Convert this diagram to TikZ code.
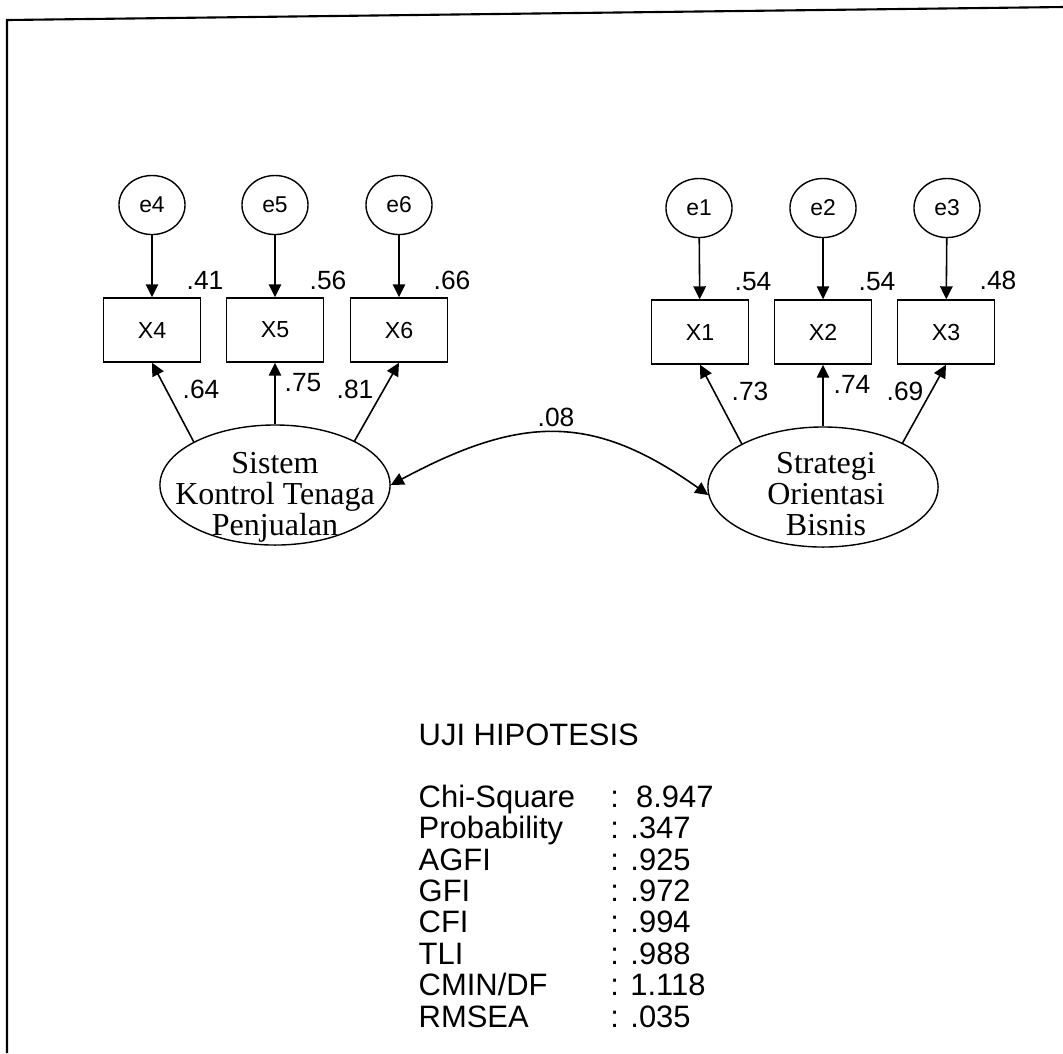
\documentclass[tikz,border=0pt]{standalone}
\usepackage{fontspec}
\setmainfont{Liberation Serif}
\setsansfont{Liberation Sans}
\usetikzlibrary{arrows.meta, positioning, shapes.geometric}

\begin{document}
\begin{tikzpicture}[
        x=0.01cm, y=-0.01cm,
        err/.style={draw, ellipse, line width=0.4pt, minimum width=0.66cm, minimum height=0.59cm, inner sep=0pt, font=\sffamily\fontsize{6.5}{7}\selectfont},
        ind/.style={draw, rectangle, line width=0.4pt, minimum width=0.97cm, minimum height=0.64cm, inner sep=0pt, font=\sffamily\fontsize{6.6}{7}\selectfont},
        lat/.style={draw, ellipse, line width=0.4pt, minimum width=2.3cm, minimum height=1.2cm, inner sep=0pt},
        lattxt/.style={align=center, inner sep=0pt, font=\rmfamily\fontsize{9.1}{8.8}\selectfont},
        arrow/.style={-{Triangle[length=1.3mm, width=1.25mm]}, line width=0.45pt},
        coef/.style={inner sep=0pt, font=\sffamily\fontsize{7.5}{8}\selectfont},
        stat/.style={inner sep=0pt, align=left, font=\sffamily\fontsize{8.8}{8.9}\selectfont}
    ]
    \useasboundingbox (0,0) rectangle (1063,1053);

    % --- Frame ---
    \draw[line width=0.6pt] (1063,7) -- (7,20) -- (7,1053);

    % --- Sistem Kontrol Tenaga Penjualan ---
    \node[err] (e4) at (152,205) {e4};
    \node[err] (e5) at (275,205) {e5};
    \node[err] (e6) at (399,205) {e6};
    \node[ind] (x4) at (152,330) {X4};
    \node[ind] (x5) at (275,330) {X5};
    \node[ind] (x6) at (399,330) {X6};
    \node[lat] (lk) at (275,485) {};
    \node[lattxt] (lktxt) at (275,497) {Sistem\\Kontrol Tenaga\\Penjualan};

    \draw[arrow] (e4) -- (x4);
    \draw[arrow] (e5) -- (x5);
    \draw[arrow] (e6) -- (x6);
    \draw[arrow] (lk.152) -- (x4.south);
    \draw[arrow] (lk.north) -- (x5.south);
    \draw[arrow] (lk.29) -- (x6.south);

    \node[coef] (r4) at (205,280) {.41};
    \node[coef] (r5) at (328,280) {.56};
    \node[coef] (r6) at (452,280) {.66};
    \node[coef] (l4) at (201,389) {.64};
    \node[coef] (l5) at (303,383) {.75};
    \node[coef] (l6) at (355,389) {.81};

    % --- Strategi Orientasi Bisnis ---
    \node[err] (e1) at (699,208) {e1};
    \node[err] (e2) at (823,208) {e2};
    \node[err] (e3) at (947,208) {e3};
    \node[ind] (x1) at (700,332) {X1};
    \node[ind] (x2) at (823,332) {X2};
    \node[ind] (x3) at (946,332) {X3};
    \node[lat] (so) at (823,487) {};
    \node[lattxt] (sotxt) at (826,494) {Strategi\\Orientasi\\Bisnis};

    \draw[arrow] (e1) -- (x1);
    \draw[arrow] (e2) -- (x2);
    \draw[arrow] (e3) -- (x3);
    \draw[arrow] (so.152) -- (x1.south);
    \draw[arrow] (so.north) -- (x2.south);
    \draw[arrow] (so.29) -- (x3.south);

    \node[coef] (r1) at (753,282) {.54};
    \node[coef] (r2) at (877,282) {.54};
    \node[coef] (r3) at (998,280) {.48};
    \node[coef] (l1) at (750,391) {.73};
    \node[coef] (l2) at (852,384) {.74};
    \node[coef] (l3) at (905,391) {.69};

    % --- Covariance ---
    \draw[{Triangle[length=1.3mm, width=1.25mm]}-{Triangle[length=1.3mm, width=1.25mm]}, line width=0.45pt]
        (lk.east) .. controls (523,414) and (594,414) .. (so.184);
    \node[coef] (cov) at (556,417) {.08};

    % --- Goodness of fit ---
    \node[stat, anchor=base west] (uji) at (418,745) {UJI HIPOTESIS};
    \node[stat, anchor=base west] (gof) at (418,807) {%
        \begin{tabular}[t]{@{}l@{\hspace{10pt}}l@{}}
            Chi-Square & :\ \ 8.947\\
            Probability & : .347\\
            AGFI & : .925\\
            GFI & : .972\\
            CFI & : .994\\
            TLI & : .988\\
            CMIN/DF & : 1.118\\
            RMSEA & : .035
        \end{tabular}};

\end{tikzpicture}
\end{document}
